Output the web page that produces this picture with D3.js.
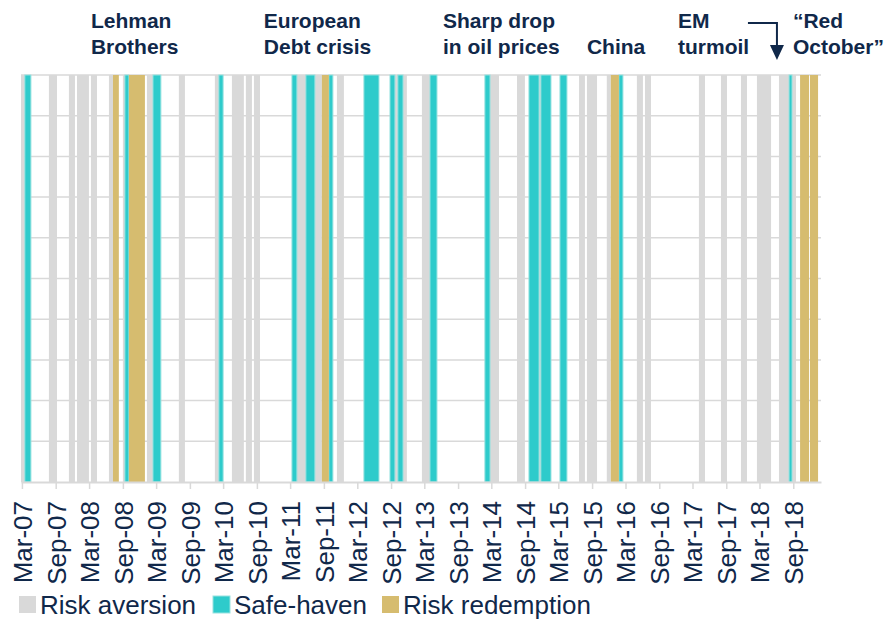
<!DOCTYPE html>
<html lang="en">
<head>
  <meta charset="utf-8">
  <title>Risk regimes 2007-2018</title>
  <script src="https://cdn.jsdelivr.net/npm/d3@7/dist/d3.min.js"></script>
  <style>
    body { margin: 0; background: #fff; }
    svg text { font-family: "Liberation Sans", Arial, sans-serif; }
  </style>
</head>
<body>
<div id="chart"></div>
<script>
  // ── data: episodes as [start, end] dates ──────────────────────────
  const riskAversion = [
    ["2007-02-24", "2007-03-17"], ["2007-07-26", "2007-09-08"], ["2007-11-12", "2007-12-15"],
    ["2007-12-26", "2008-02-29"], ["2008-03-11", "2008-04-13"], ["2008-06-17", "2008-07-09"],
    ["2008-09-01", "2008-09-12"], ["2009-01-10", "2009-02-12"], ["2009-07-03", "2009-08-05"],
    ["2010-01-15", "2010-02-06"], ["2010-04-18", "2010-06-22"], ["2010-07-03", "2010-08-05"],
    ["2010-08-16", "2010-09-18"], ["2011-04-07", "2011-05-26"], ["2011-07-14", "2011-08-21"],
    ["2011-11-11", "2011-12-19"], ["2012-09-22", "2012-10-08"], ["2012-11-05", "2012-11-26"],
    ["2013-02-16", "2013-04-01"], ["2014-02-22", "2014-04-12"], ["2014-07-19", "2014-08-31"],
    ["2014-11-16", "2014-11-26"], ["2015-06-22", "2015-07-24"], ["2015-08-04", "2015-09-28"],
    ["2015-11-20", "2015-12-12"], ["2016-05-02", "2016-06-04"], ["2016-06-15", "2016-07-18"],
    ["2017-04-05", "2017-05-08"], ["2017-08-03", "2017-09-05"], ["2017-11-20", "2017-12-23"],
    ["2018-02-15", "2018-05-03"], ["2018-06-15", "2018-08-09"], ["2018-08-25", "2018-09-16"]
  ];
  const safeHaven = [
    ["2007-03-17", "2007-04-19"], ["2008-09-12", "2008-10-04"], ["2009-02-12", "2009-03-27"],
    ["2010-02-06", "2010-03-01"], ["2011-03-11", "2011-04-07"], ["2011-05-26", "2011-07-14"],
    ["2011-09-28", "2011-10-20"], ["2012-04-06", "2012-06-27"], ["2012-08-26", "2012-09-22"],
    ["2012-10-08", "2012-11-05"], ["2013-04-01", "2013-05-09"], ["2014-01-25", "2014-02-22"],
    ["2014-09-22", "2014-11-16"], ["2014-11-26", "2015-01-20"], ["2015-03-10", "2015-04-17"],
    ["2016-01-25", "2016-02-16"], ["2018-08-09", "2018-08-25"]
  ];
  const riskRedemption = [
    ["2008-07-09", "2008-08-10"], ["2008-10-04", "2008-12-30"], ["2011-08-21", "2011-09-28"],
    ["2015-12-12", "2016-01-25"], ["2018-10-08", "2018-11-26"], ["2018-12-01", "2019-01-14"]
  ];

  const seriesNames  = ["Risk aversion", "Safe-haven", "Risk redemption"];
  const seriesColors = ["#d9d9d9", "#2ecbcb", "#d6bc6f"];
  const seriesEdges  = ["none", "#97e2e0", "none"];
  const seriesData   = [riskAversion, safeHaven, riskRedemption];

  const tickLabels = ["Mar-07","Sep-07","Mar-08","Sep-08","Mar-09","Sep-09","Mar-10","Sep-10",
                      "Mar-11","Sep-11","Mar-12","Sep-12","Mar-13","Sep-13","Mar-14","Sep-14",
                      "Mar-15","Sep-15","Mar-16","Sep-16","Mar-17","Sep-17","Mar-18","Sep-18"];

  const events = [
    { lines: ["Lehman", "Brothers"],          at: "2008-03-11" },
    { lines: ["European", "Debt crisis"],     at: "2010-10-09" },
    { lines: ["Sharp drop", "in oil prices"], at: "2013-06-11" },
    { lines: ["", "China"],                   at: "2015-08-04" },
    { lines: ["EM", "turmoil"],               at: "2016-12-12" },
    { lines: ["\u201CRed", "October\u201D"],  at: "2018-08-30" }
  ];

  // ── layout ───────────────────────────────────────────────────────
  const W = 886, H = 620;
  const navy = "#10284a";
  const parse = d3.timeParse("%Y-%m-%d");
  const fmt = d3.timeFormat("%b-%y");

  const x = d3.scaleTime()
    .domain([parse("2007-02-24"), parse("2019-01-30")])
    .range([21, 821]);
  const y = d3.scaleLinear().domain([0, 1]).range([482, 75]);

  const svg = d3.select("#chart").append("svg")
    .attr("width", W).attr("height", H);

  // gridlines
  svg.append("g")
    .selectAll("line")
    .data(d3.range(1, 11).map(i => i / 10))
    .join("line")
      .attr("x1", x.range()[0]).attr("x2", x.range()[1])
      .attr("y1", d => y(d)).attr("y2", d => y(d))
      .attr("stroke", "#d9d9d9").attr("stroke-width", 1.5);

  // bars
  seriesData.forEach((data, i) => {
    svg.append("g")
      .selectAll("rect")
      .data(data)
      .join("rect")
        .attr("x", d => x(parse(d[0])))
        .attr("width", d => x(parse(d[1])) - x(parse(d[0])))
        .attr("y", y(1))
        .attr("height", y(0) - y(1))
        .attr("fill", seriesColors[i])
        .attr("stroke", seriesEdges[i])
        .attr("stroke-width", 1);
  });

  // x axis
  const tickDates = tickLabels.map(t => d3.timeParse("%b-%y")(t));
  const xAxis = svg.append("g")
    .attr("transform", `translate(0,${y(0)})`)
    .call(d3.axisBottom(x).tickValues(tickDates).tickFormat(fmt).tickSize(7).tickSizeOuter(0));
  xAxis.select(".domain").attr("stroke", "#d9d9d9").attr("stroke-width", 2);
  xAxis.selectAll(".tick line").attr("stroke", "#d9d9d9").attr("stroke-width", 1.5);
  xAxis.selectAll(".tick text")
    .attr("transform", "rotate(-90)")
    .attr("text-anchor", "end")
    .attr("x", -19).attr("y", 0).attr("dy", "0.36em")
    .attr("fill", navy)
    .attr("font-size", 26)
    .attr("font-family", null);

  // event annotations
  const ev = svg.append("g")
    .attr("font-weight", "bold").attr("font-size", 21).attr("fill", navy);
  events.forEach(e => {
    e.lines.forEach((l, k) => {
      ev.append("text")
        .attr("x", x(parse(e.at)))
        .attr("y", 28 + k * 26)
        .text(l);
    });
  });

  // arrow from EM turmoil down to the 2018 episode
  const ax0 = x(parse("2017-12-28")), ax1 = x(parse("2018-06-04"));
  svg.append("path")
    .attr("d", `M${ax0},23 H${ax1} V46`)
    .attr("fill", "none").attr("stroke", navy).attr("stroke-width", 2);
  svg.append("path")
    .attr("d", `M${ax1 - 7},45 L${ax1 + 7},45 L${ax1},60 Z`)
    .attr("fill", navy);

  // legend
  const leg = svg.append("g").attr("transform", "translate(19,596)");
  const legX = [0, 194, 363];
  seriesNames.forEach((n, i) => {
    const g = leg.append("g").attr("transform", `translate(${legX[i]},0)`);
    g.append("rect").attr("width", 17).attr("height", 17)
      .attr("fill", seriesColors[i]).attr("stroke", seriesEdges[i]);
    g.append("text").attr("x", 21).attr("y", 17.5)
      .attr("font-size", 26).attr("fill", navy).text(n);
  });
</script>
</body>
</html>
